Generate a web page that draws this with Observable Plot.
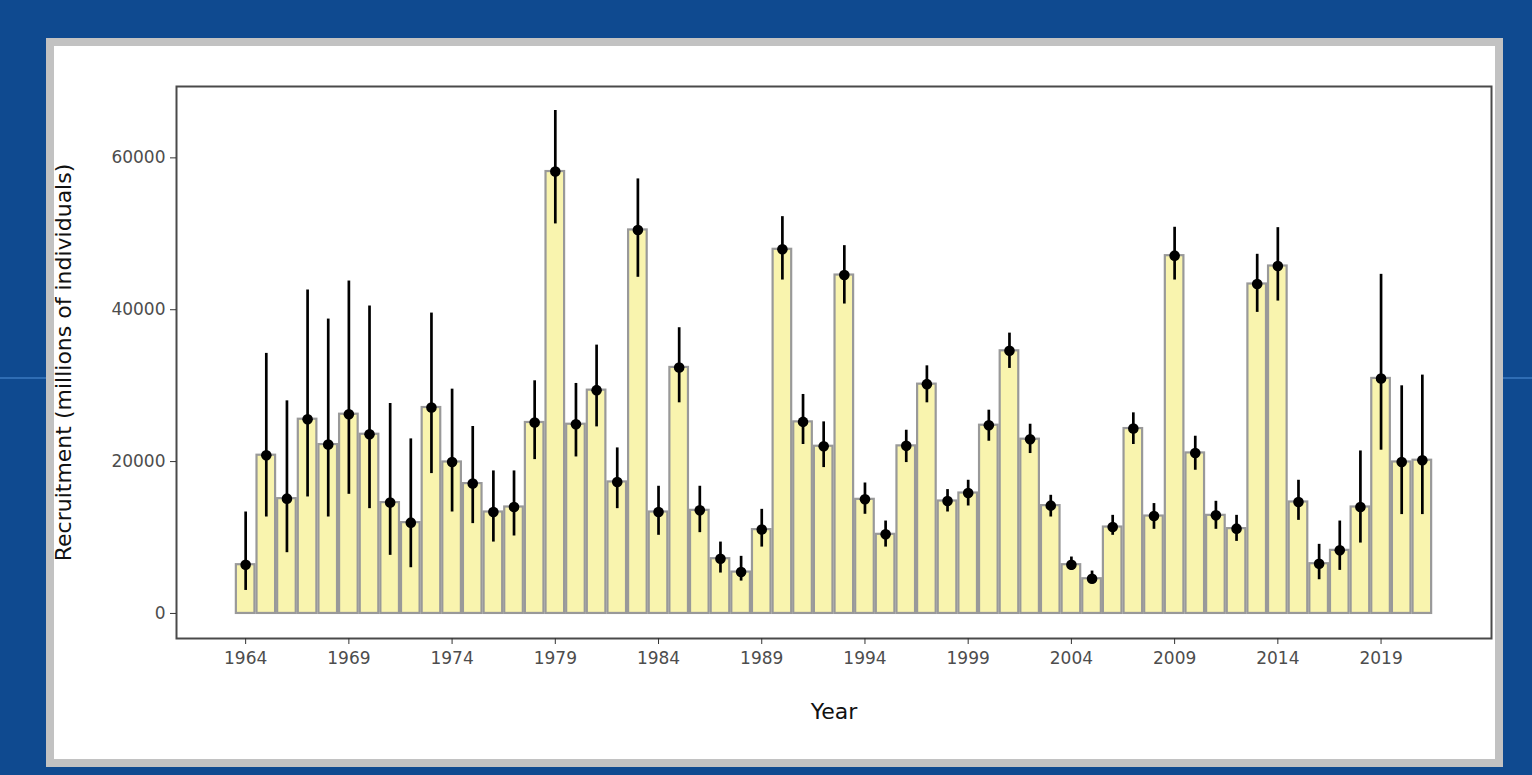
<!DOCTYPE html>
<html>
<head>
<meta charset="utf-8">
<script src="https://cdn.jsdelivr.net/npm/d3@7"></script>
<script src="https://cdn.jsdelivr.net/npm/@observablehq/plot@0.6"></script>
<style>
  html, body { margin: 0; padding: 0; }
  body {
    width: 1532px; height: 775px; overflow: hidden; position: relative;
    background: #0f4a90;
  }
  #hline { position: absolute; left: 0; top: 377px; width: 1532px; height: 2px; background: #2f6db4; }
  #panel {
    position: absolute; left: 46px; top: 38px; width: 1457px; height: 729px;
    box-sizing: border-box; background: #ffffff; border: 8px solid #c2c2c2;
  }
  #chart { position: absolute; left: 0; top: 0; }
</style>
</head>
<body>
<div id="hline"></div>
<div id="panel"></div>
<div id="chart"></div>
<script>
const years = d3.range(1964, 2022);
const recruitment = [
  6420, 20840, 15120, 25580, 22240, 26240, 23600, 14600, 11960, 27120,
  19950, 17100, 13360, 14020, 25150, 58200, 24920, 29410, 17320, 50510,
  13360, 32400, 13580, 7210, 5450, 11040, 47960, 25230, 22020, 44570,
  15030, 10420, 22070, 30200, 14810, 15860, 24790, 34590, 22950, 14200,
  6420, 4570, 11380, 24350, 12830, 47120, 21140, 12920, 11170, 43390,
  45760, 14680, 6550, 8310, 14020, 30950, 19950, 20180
];
const upper = [
  13360, 34250, 28000, 42600, 38770, 43780, 40490, 27650, 22990, 39560,
  29540, 24620, 18770, 18770, 30640, 66240, 30290, 35340, 21800, 57230,
  16750, 37630, 16750, 9400, 7520, 13710, 52260, 28840, 25230, 48440,
  17180, 12170, 24130, 32610, 16310, 17540, 26770, 36920, 24920, 15560,
  7430, 5580, 12920, 26420, 14470, 50860, 23340, 14770, 12920, 47300,
  50810, 17540, 9100, 12170, 21400, 44660, 29980, 31390
];
const lower = [
  3030, 12700, 8000, 15340, 12700, 15690, 13800, 7650, 6020, 18420,
  13360, 11830, 9400, 10200, 20260, 51300, 20610, 24570, 13800, 44270,
  10290, 27740, 10640, 5320, 4260, 8740, 43910, 22250, 19210, 40750,
  13060, 8740, 19870, 27740, 13360, 14150, 22680, 32270, 21060, 12700,
  5670, 3910, 10290, 22250, 11080, 43910, 18860, 11080, 9490, 39650,
  41140, 12260, 4440, 5670, 9270, 21500, 13020, 13020
];
const xTicks = [1964, 1969, 1974, 1979, 1984, 1989, 1994, 1999, 2004, 2009, 2014, 2019];
const yTicks = [0, 20000, 40000, 60000];

const data = years.map((year, i) => ({year, value: recruitment[i], lo: lower[i], hi: upper[i]}));

const chart = Plot.plot({
  width: 1532,
  height: 775,
  marginLeft: 176,
  marginRight: 41,
  marginTop: 86,
  marginBottom: 137,
  style: {background: "transparent", fontFamily: "DejaVu Sans", fontSize: "17px", overflow: "visible"},
  x: {domain: [1960.65, 2024.35]},
  y: {domain: [-3300, 69400]},
  marks: [
    Plot.frame({stroke: "#4a4a4a", strokeWidth: 2}),
    Plot.rectY(data, {x1: d => d.year - 0.45, x2: d => d.year + 0.45, y: "value", fill: "#f9f4ae", stroke: "#999999", strokeWidth: 2.2}),
    Plot.ruleX(data, {x: "year", y1: "lo", y2: "hi", stroke: "#000", strokeWidth: 2.7}),
    Plot.dot(data, {x: "year", y: "value", r: 5.3, fill: "#000"}),
    Plot.axisX({ticks: xTicks, tickFormat: d => String(d), tickSize: 6, tickPadding: 7, stroke: "#333", fill: "#4d4d4d",
      label: "Year", labelAnchor: "center", labelArrow: "none", labelOffset: 80}),
    Plot.axisY({ticks: yTicks, tickFormat: d => String(d), tickSize: 6, tickPadding: 5, stroke: "#333", fill: "#4d4d4d",
      label: "Recruitment (millions of individuals)", labelAnchor: "center", labelArrow: "none", labelOffset: 121})
  ]
});
chart.querySelectorAll("[aria-label='x-axis label'], [aria-label='y-axis label']").forEach(g => {
  g.setAttribute("font-size", "22px");
  g.setAttribute("fill", "#111");
  g.style.fontSize = "22px";
});
document.getElementById("chart").appendChild(chart);
</script>
</body>
</html>
